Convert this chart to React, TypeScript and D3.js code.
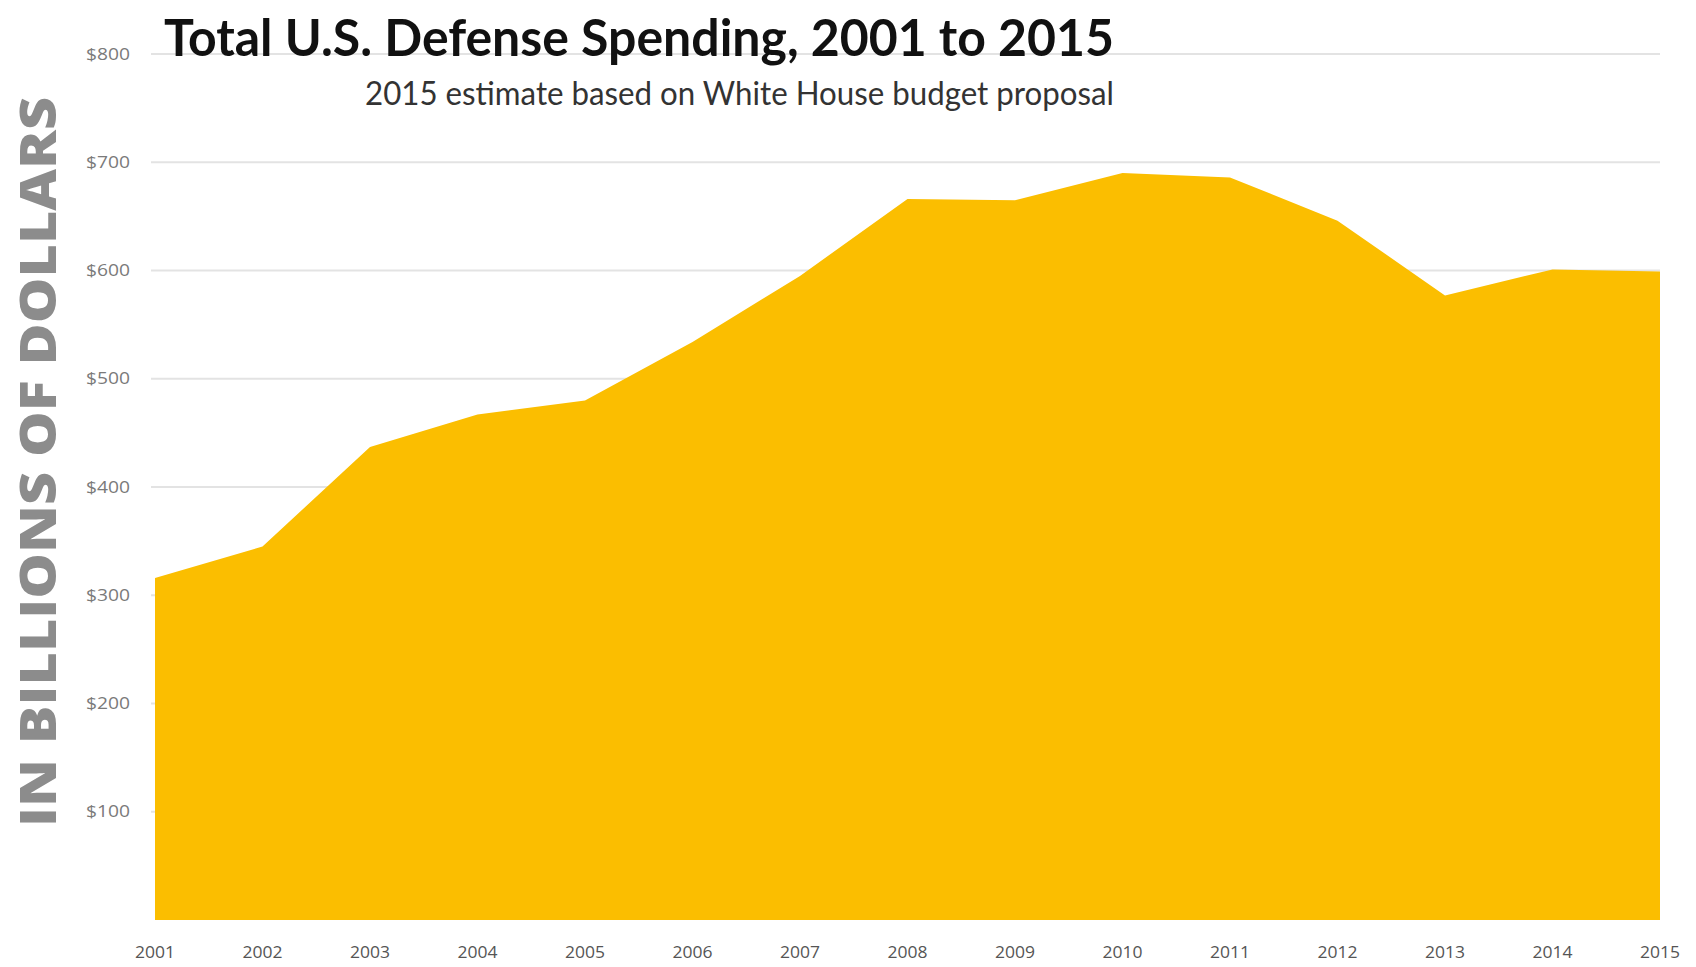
import React, { useEffect } from "react";
import * as d3 from "d3";

const years: number[] = [2001, 2002, 2003, 2004, 2005, 2006, 2007, 2008, 2009, 2010, 2011, 2012, 2013, 2014, 2015];
const spending: number[] = [316, 345, 437, 467, 480, 534, 595, 666, 665, 690, 686, 646, 577, 601, 599];
const yTicks: number[] = [100, 200, 300, 400, 500, 600, 700, 800];
const yTickLabels: string[] = ["$100", "$200", "$300", "$400", "$500", "$600", "$700", "$800"];
const titleText = "Total U.S. Defense Spending, 2001 to 2015";
const subtitleText = "2015 estimate based on White House budget proposal";
const yAxisTitle = "IN BILLIONS OF DOLLARS";

export default function App() {
  useEffect(() => {
    document.body.style.margin = "0";
    document.body.style.overflow = "hidden";
  }, []);

  const W = 1696;
  const H = 967;
  const x = d3.scaleLinear().domain([2001, 2015]).range([155, 1660]);
  const y = d3.scaleLinear().domain([0, 800]).range([920, 54]);

  const area = d3
    .area<number>()
    .x((_, i) => x(years[i]))
    .y0(y(0))
    .y1((d) => y(d))
    .curve(d3.curveLinear);

  return (
    <svg width={W} height={H} style={{ display: "block", background: "#fff" }}>
      {yTicks.map((t, i) => (
        <g key={t}>
          <line x1={151} x2={1660} y1={y(t)} y2={y(t)} stroke="#e3e3e3" strokeWidth={2} />
          <text
            x={130}
            y={y(t)}
            dy="0.35em"
            textAnchor="end"
            fontFamily="'Open Sans', sans-serif"
            fontSize={16}
            fill="#7a7a7a"
            textLength={44}
            lengthAdjust="spacingAndGlyphs"
          >
            {yTickLabels[i]}
          </text>
        </g>
      ))}
      <path d={area(spending) || ""} fill="#FBBE00" />
      {years.map((yr) => (
        <text
          key={yr}
          x={x(yr)}
          y={952}
          dy="0.35em"
          textAnchor="middle"
          fontFamily="'Open Sans', sans-serif"
          fontSize={17}
          fill="#555"
          textLength={40}
          lengthAdjust="spacingAndGlyphs"
        >
          {yr}
        </text>
      ))}
      <text
        x={164}
        y={56}
        fontFamily="Lato, sans-serif"
        fontWeight={700}
        fontSize={52}
        fill="#111"
        textLength={950}
        lengthAdjust="spacingAndGlyphs"
      >
        {titleText}
      </text>
      <text
        x={1114}
        y={105}
        textAnchor="end"
        fontFamily="Lato, sans-serif"
        fontSize={33}
        fill="#333"
        textLength={749}
        lengthAdjust="spacingAndGlyphs"
      >
        {subtitleText}
      </text>
      <text
        transform={`translate(56, 462) rotate(-90)`}
        textAnchor="middle"
        fontFamily="'Open Sans', sans-serif"
        fontWeight={800}
        fontSize={50}
        fill="#8c8c8c"
        textLength={730}
        lengthAdjust="spacingAndGlyphs"
      >
        {yAxisTitle}
      </text>
    </svg>
  );
}
